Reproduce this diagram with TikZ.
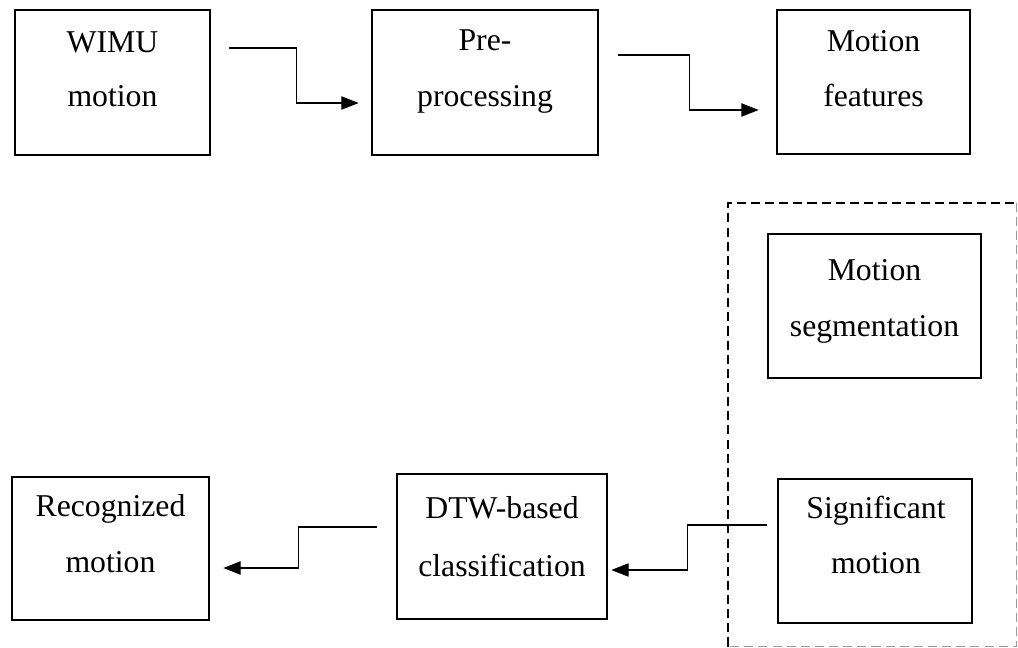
\documentclass[tikz,border=0pt]{standalone}
\usepackage{fontspec}
\setmainfont{Liberation Serif}
\usetikzlibrary{calc,fit,arrows.meta}
\begin{document}
\begin{tikzpicture}[x=0.75pt,y=-0.75pt,
  box/.style={draw=black,line width=2pt,inner sep=0pt,fill=none},
  lbl/.style={inner sep=0pt,anchor=base,font=\fontsize{23.8pt}{28pt}\selectfont},
  arr/.style={draw=black,line width=0.8pt,-{Triangle[length=13pt,width=10pt]}},
  dashbox/.style={line width=1.9pt,dash pattern=on 6.8pt off 3.8pt}]
\useasboundingbox (0,0) rectangle (1018,648);
% boxes
\node[box,fit={(15,10) (210,155)}] (wimu) {};
\node[box,fit={(372,10) (598,155)}] (pre) {};
\node[box,fit={(777,10) (970,154)}] (feat) {};
\node[box,fit={(768,234) (981,378)}] (seg) {};
\node[box,fit={(778,479) (972,623)}] (sig) {};
\node[box,fit={(397,474) (607,619)}] (dtw) {};
\node[box,fit={(12,477) (209,620)}] (rec) {};
% texts
\node[lbl] (t1a) at (112.5,53) {WIMU};
\node[lbl] (t1b) at (112.5,107) {motion};
\node[lbl] (t2a) at (485,51) {Pre-};
\node[lbl] (t2b) at (485,107) {processing};
\node[lbl] (t3a) at (873.5,52) {Motion};
\node[lbl] (t3b) at (873.5,107) {features};
\node[lbl] (t4a) at (874.5,281) {Motion};
\node[lbl] (t4b) at (874.5,337) {segmentation};
\node[lbl] (t5a) at (876,518) {Significant};
\node[lbl] (t5b) at (876,574) {motion};
\node[lbl] (t6a) at (502,518) {DTW-based};
\node[lbl] (t6b) at (502,576) {classification};
\node[lbl] (t7a) at (110.5,517) {Recognized};
\node[lbl] (t7b) at (110.5,572) {motion};
% dashed group
\coordinate (dTL) at (728,203);
\coordinate (dTR) at (1016.5,203);
\coordinate (dBR) at (1016.5,646.5);
\coordinate (dBL) at (728,646.5);
\draw[dashbox,black] (dBL) -- (dTL) -- (dTR);
\draw[dashbox,black!40,line width=1.3pt] (dTR) -- (dBR) -- (dBL);
% connectors
\draw[arr] ($(wimu.east)+(18,-34.5)$) -- ++(67,0) |- ($(pre.west)+(-12,20.5)$);
\draw[arr] ($(pre.east)+(19,-27.5)$) -- ++(71,0) |- ($(feat.west)+(-17,28)$);
\draw[arr] ($(sig.west)+(-10,-26)$) -- ++(-79,0) |- ($(dtw.east)+(3,23.5)$);
\draw[arr] ($(dtw.west)+(-19,-19.5)$) -- ++(-78,0) |- ($(rec.east)+(13,19.5)$);
\end{tikzpicture}
\end{document}
